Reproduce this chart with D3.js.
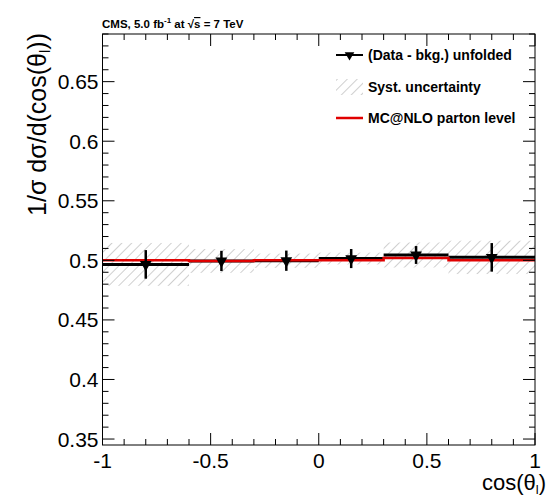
<!DOCTYPE html>
<html>
<head>
<meta charset="utf-8">
<script src="https://cdn.jsdelivr.net/npm/d3@7"></script>
<style>
    body { margin: 0; background: #fff; }
    svg { display: block; font-family: 'Liberation Sans', Arial, sans-serif; }
</style>
</head>
<body>
<div id="chart"></div>
<script>
// Datos
let binEdges = [-1, -0.6, -0.3, 0, 0.3, 0.6, 1];
let dataVals = [0.4966, 0.4995, 0.4997, 0.5015, 0.5045, 0.5025];
let statErr = [0.012, 0.0085, 0.0085, 0.008, 0.0075, 0.012];
let systErr = [0.018, 0.010, 0.006, 0.005, 0.0105, 0.014];
let mcVals = [0.5, 0.4995, 0.5, 0.5, 0.502, 0.5];
let xTicks = [-1, -0.5, 0, 0.5, 1];
let yTicks = [0.35, 0.4, 0.45, 0.5, 0.55, 0.6, 0.65];
let legendLabels = ['(Data - bkg.) unfolded', 'Syst. uncertainty', 'MC@NLO parton level'];

let width = 550, height = 498;
let margin = {top: 34, right: 15, bottom: 53, left: 102.5};
let w = width - margin.left - margin.right,
    h = height - margin.top - margin.bottom;

let svg = d3.select('#chart').append('svg')
    .attr('width', width)
    .attr('height', height);

// Patrón rayado para la incertidumbre sistemática
let defs = svg.append('defs');
defs.append('pattern')
    .attr('id', 'hatch')
    .attr('patternUnits', 'userSpaceOnUse')
    .attr('width', 7).attr('height', 7)
    .attr('patternTransform', 'rotate(-45)')
    .append('line')
    .attr('x1', 0).attr('y1', 0).attr('x2', 7).attr('y2', 0)
    .attr('stroke', '#a8a8a8').attr('stroke-width', 1.1);

let chart = svg.append('g')
    .attr('transform', 'translate(' + margin.left + ',' + margin.top + ')');

let x = d3.scaleLinear().domain([-1, 1]).range([0, w]);
let y = d3.scaleLinear().domain([0.345, 0.69]).range([h, 0]);

let bins = dataVals.map(function(d, i) {
    return {x0: binEdges[i], x1: binEdges[i + 1], v: d, stat: statErr[i], syst: systErr[i], mc: mcVals[i]};
});

// Bandas sistemáticas
chart.selectAll('.syst')
    .data(bins)
    .enter().append('rect')
    .attr('x', function(d) { return x(d.x0); })
    .attr('width', function(d) { return x(d.x1) - x(d.x0); })
    .attr('y', function(d) { return y(d.v + d.syst); })
    .attr('height', function(d) { return y(d.v - d.syst) - y(d.v + d.syst); })
    .attr('fill', 'url(#hatch)');

// Datos: líneas horizontales
chart.selectAll('.hline')
    .data(bins)
    .enter().append('line')
    .attr('x1', function(d) { return x(d.x0); })
    .attr('x2', function(d) { return x(d.x1); })
    .attr('y1', function(d) { return y(d.v); })
    .attr('y2', function(d) { return y(d.v); })
    .attr('stroke', '#000').attr('stroke-width', 3);

// MC step
let stepPts = [];
bins.forEach(function(d) { stepPts.push([d.x0, d.mc]); stepPts.push([d.x1, d.mc]); });
chart.append('path')
    .datum(stepPts)
    .attr('fill', 'none')
    .attr('stroke', '#e00000')
    .attr('stroke-width', 2.5)
    .attr('d', d3.line().x(function(d) { return x(d[0]); }).y(function(d) { return y(d[1]); }));

// Barras de error
chart.selectAll('.err')
    .data(bins)
    .enter().append('line')
    .attr('x1', function(d) { return x((d.x0 + d.x1) / 2); })
    .attr('x2', function(d) { return x((d.x0 + d.x1) / 2); })
    .attr('y1', function(d) { return y(d.v + d.stat); })
    .attr('y2', function(d) { return y(d.v - d.stat); })
    .attr('stroke', '#000').attr('stroke-width', 2.5);

let tri = d3.symbol().type(d3.symbolTriangle).size(60);
chart.selectAll('.mark')
    .data(bins)
    .enter().append('path')
    .attr('d', tri)
    .attr('transform', function(d) { return 'translate(' + x((d.x0 + d.x1) / 2) + ',' + y(d.v) + ') rotate(180)'; })
    .attr('fill', '#000');

// Marco y ejes
chart.append('rect')
    .attr('width', w).attr('height', h)
    .attr('fill', 'none').attr('stroke', '#000').attr('stroke-width', 1);

let xMinor = d3.range(-10, 11).map(function(d) { return d / 10; });
let yMinor = d3.range(35, 70).map(function(d) { return d / 100; });

function tickLen(v, major) {
    return major.some(function(m) { return Math.abs(m - v) < 1e-6; }) ? 12 : 6;
}

chart.selectAll('.xtb').data(xMinor).enter().append('line')
    .attr('x1', function(d) { return x(d); }).attr('x2', function(d) { return x(d); })
    .attr('y1', h).attr('y2', function(d) { return h - tickLen(d, xTicks); })
    .attr('stroke', '#000');
chart.selectAll('.xtt').data(xMinor).enter().append('line')
    .attr('x1', function(d) { return x(d); }).attr('x2', function(d) { return x(d); })
    .attr('y1', 0).attr('y2', function(d) { return tickLen(d, xTicks); })
    .attr('stroke', '#000');
chart.selectAll('.ytl').data(yMinor).enter().append('line')
    .attr('y1', function(d) { return y(d); }).attr('y2', function(d) { return y(d); })
    .attr('x1', 0).attr('x2', function(d) { return tickLen(d, yTicks); })
    .attr('stroke', '#000');
chart.selectAll('.ytr').data(yMinor).enter().append('line')
    .attr('y1', function(d) { return y(d); }).attr('y2', function(d) { return y(d); })
    .attr('x1', w).attr('x2', function(d) { return w - tickLen(d, yTicks); })
    .attr('stroke', '#000');

chart.selectAll('.xlab').data(xTicks).enter().append('text')
    .attr('x', function(d) { return x(d); })
    .attr('y', h + 23)
    .attr('text-anchor', 'middle')
    .attr('font-size', 21)
    .text(function(d) { return d; });

chart.selectAll('.ylab').data(yTicks).enter().append('text')
    .attr('x', -4)
    .attr('y', function(d) { return y(d) + 7.5; })
    .attr('text-anchor', 'end')
    .attr('font-size', 21)
    .text(function(d) { return d; });

// Títulos de ejes
let xt = svg.append('text')
    .attr('x', 546).attr('y', 490)
    .attr('text-anchor', 'end')
    .attr('font-size', 22);
xt.append('tspan').text('cos(θ');
xt.append('tspan').attr('font-size', 13).attr('dy', 4).text('l');
xt.append('tspan').attr('dy', -4).text(')');

let yt = svg.append('text')
    .attr('transform', 'translate(46,33) rotate(-90)')
    .attr('text-anchor', 'end')
    .attr('font-size', 25);
yt.append('tspan').text('1/σ dσ/d(cos(θ');
yt.append('tspan').attr('font-size', 15).attr('dy', 4).text('l');
yt.append('tspan').attr('dy', -4).text('))');

// Cabecera
let head = svg.append('text')
    .attr('x', 102).attr('y', 28)
    .attr('font-size', 11.5).attr('font-weight', 'bold');
head.append('tspan').text('CMS, 5.0 fb');
head.append('tspan').attr('font-size', 8).attr('dy', -5).text('-1');
head.append('tspan').attr('dy', 5).text(' at  √');
head.append('tspan').style('text-decoration', 'overline').text('s');
head.append('tspan').text(' = 7 TeV');

// Leyenda
let legend = svg.append('g').attr('font-size', 14).attr('font-weight', 'bold');
let legY = [55, 87, 118];
legend.selectAll('text').data(legendLabels).enter().append('text')
    .attr('x', 368)
    .attr('y', function(d, i) { return legY[i] + 5; })
    .text(function(d) { return d; });

legend.append('line')
    .attr('x1', 336).attr('x2', 363).attr('y1', legY[0]).attr('y2', legY[0])
    .attr('stroke', '#000').attr('stroke-width', 2);
legend.append('path')
    .attr('d', d3.symbol().type(d3.symbolTriangle).size(40))
    .attr('transform', 'translate(349.5,' + legY[0] + ') rotate(180)');
legend.append('rect')
    .attr('x', 336).attr('y', legY[1] - 8).attr('width', 27).attr('height', 16)
    .attr('fill', 'url(#hatch)');
legend.append('line')
    .attr('x1', 336).attr('x2', 363).attr('y1', legY[2]).attr('y2', legY[2])
    .attr('stroke', '#e00000').attr('stroke-width', 2.5);
</script>
</body>
</html>
